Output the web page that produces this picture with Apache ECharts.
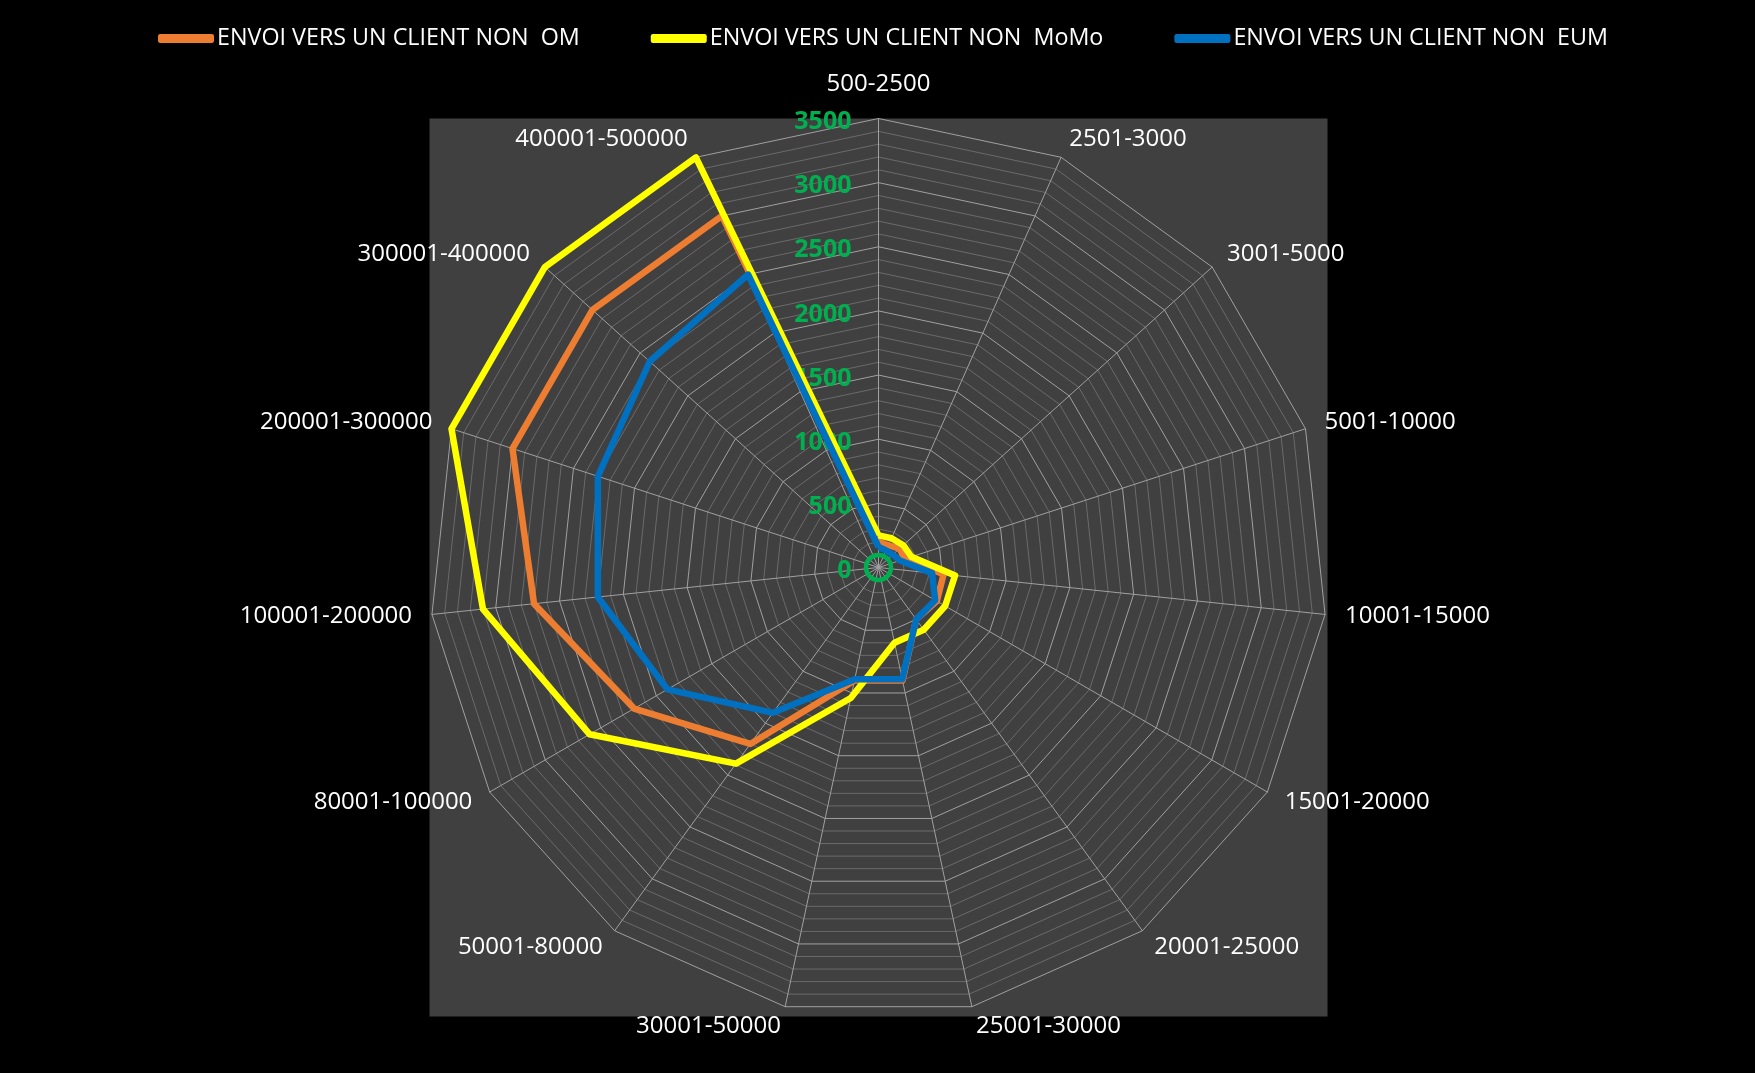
<!DOCTYPE html>
<html>
<head>
<meta charset="utf-8">
<script src="https://cdn.jsdelivr.net/npm/echarts@6/dist/echarts.min.js"></script>
<style>
html,body{margin:0;padding:0;background:#000;}
#chart{width:1755px;height:1073px;}
</style>
</head>
<body>
<div id="chart"></div>
<script>
const categories = ['500-2500','2501-3000','3001-5000','5001-10000','10001-15000','15001-20000','20001-25000','25001-30000','30001-50000','50001-80000','80001-100000','100001-200000','200001-300000','300001-400000','400001-500000'];
const seriesNames = ['ENVOI VERS UN CLIENT NON  OM','ENVOI VERS UN CLIENT NON  MoMo','ENVOI VERS UN CLIENT NON  EUM'];
const omValues   = [200, 190, 220, 215, 510, 525, 500, 900, 900, 1700, 2200, 2700, 3000, 3000, 3000];
const momoValues = [250, 250, 260, 270, 600, 600, 600, 600, 1040, 1890, 2600, 3100, 3500, 3500, 3500];
const eumValues  = [160, 145, 150, 175, 420, 510, 500, 890, 890, 1400, 1900, 2200, 2300, 2400, 2500];
const axisMin = 0, axisMax = 3500, majorStep = 500, minorStep = 100;
const colors = ['#ED7D31', '#FFFF00', '#0070C0'];

// ECharts lays indicators counter-clockwise; reorder so categories run clockwise from the top
const order = [0];
for (let i = categories.length - 1; i >= 1; i--) order.push(i);
const reorder = arr => order.map(i => arr[i]);

const cx = 878.5, cy = 567.5, R = 449;
const splitColors = [];
for (let i = 0; i < majorStep / minorStep; i++) splitColors.push(i === 0 ? '#a0a0a0' : '#6a6a6a');

const indicator = reorder(categories).map((name, k) => {
  const o = { name: name, min: axisMin, max: axisMax };
  if (k === 0) {
    o.nameGap = 22;
    o.axisLabel = {
      show: true, color: '#00B050', fontWeight: 'bold', fontSize: 25,
      fontFamily: 'Open Sans', margin: 27,
      formatter: v => (Math.round(v) % majorStep === 0 ? '{g|' + Math.round(v) + '}' : ''),
      rich: { g: { color: '#00B050', fontWeight: 'bold', fontSize: 25, fontFamily: 'Open Sans', padding: [7, 0, 0, 0] } }
    };
  }
  return o;
});

const chart = echarts.init(document.getElementById('chart'), null, {renderer: 'canvas'});
chart.setOption({
  backgroundColor: '#000000',
  animation: false,
  color: colors,
  graphic: [
    { type: 'rect', z: -10, silent: true, shape: { x: cx - R, y: cy - R, width: 2 * R, height: 2 * R }, style: { fill: '#404040' } },
    { type: 'circle', z: 100, silent: true, shape: { cx: cx, cy: cy, r: 12.5 }, style: { fill: 'none', stroke: '#00B050', lineWidth: 4.5 } }
  ],
  legend: {
    left: 158, top: 27, padding: 0,
    itemWidth: 56, itemHeight: 9, itemGap: 71,
    icon: 'roundRect',
    data: seriesNames,
    textStyle: { color: '#ffffff', fontSize: 23.3, fontFamily: 'Open Sans', padding: [0, 0, 0, -2] }
  },
  radar: {
    center: [cx, cy],
    radius: R,
    shape: 'polygon',
    splitNumber: (axisMax - axisMin) / minorStep,
    nameGap: 20,
    axisName: { color: '#ffffff', fontSize: 24, fontFamily: 'Open Sans' },
    axisLine: { show: true, lineStyle: { color: '#a0a0a0', width: 1 } },
    splitLine: { show: true, lineStyle: { color: splitColors, width: 1 } },
    splitArea: { show: false },
    axisTick: { show: false },
    axisLabel: { show: false },
    indicator: indicator
  },
  series: [{
    type: 'radar',
    symbol: 'none',
    lineStyle: { width: 6.5, join: 'round' },
    data: [
      { name: seriesNames[0], value: reorder(omValues), lineStyle: { color: colors[0], width: 6.5 }, itemStyle: { color: colors[0] } },
      { name: seriesNames[1], value: reorder(momoValues), lineStyle: { color: colors[1], width: 6.5 }, itemStyle: { color: colors[1] } },
      { name: seriesNames[2], value: reorder(eumValues), lineStyle: { color: colors[2], width: 6.5 }, itemStyle: { color: colors[2] } }
    ]
  }]
});
</script>
</body>
</html>
